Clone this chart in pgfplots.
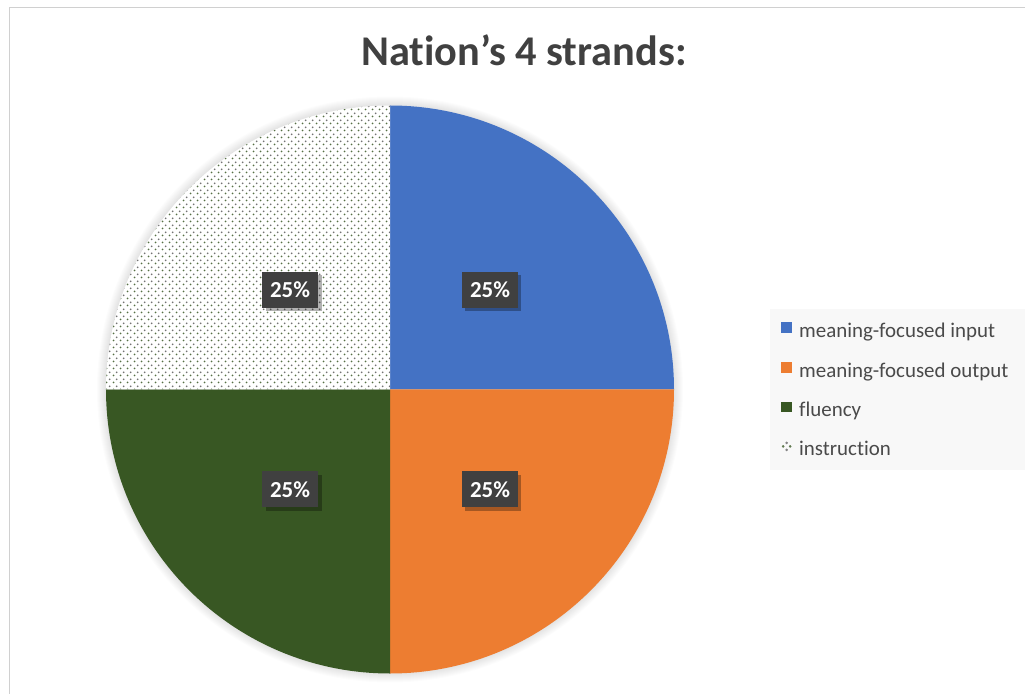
\documentclass[border=0pt]{standalone}
\usepackage{pgfplots}
\pgfplotsset{compat=1.18}
\usepackage{pgfplotstable}
\usepackage{fontspec}
\setmainfont{Carlito}[Ligatures=NoCommon]
\usetikzlibrary{patterns.meta,shadows}

\definecolor{cinput}{HTML}{4472C4}
\definecolor{coutput}{HTML}{ED7D31}
\definecolor{cfluency}{HTML}{385723}
\definecolor{txt}{HTML}{404040}
\definecolor{legtxt}{HTML}{4A4A4A}
\definecolor{lbl}{HTML}{404040}
\definecolor{framec}{HTML}{D0D0D0}
\definecolor{legbg}{HTML}{F8F8F8}

\tikzdeclarepattern{
  name=instrdots,
  type=colored,
  bottom left={(0bp,0bp)},
  top right={(6.6bp,6.6bp)},
  tile size={(6.6bp,6.6bp)},
  code={
    \fill[cfluency!85] (1.65bp,1.65bp) circle (1.05bp);
    \fill[black!55] (4.95bp,4.95bp) circle (1.05bp);
  }
}

\pgfplotstableread{
label value
input 25
output 25
fluency 25
instruction 25
}\piedata

\begin{document}
\begin{tikzpicture}
\path[use as bounding box] (0,0) rectangle (1025bp,694bp);
\pgfplotstablegetelem{0}{value}\of\piedata\edef\vA{\pgfplotsretval}
\pgfplotstablegetelem{1}{value}\of\piedata\edef\vB{\pgfplotsretval}
\pgfplotstablegetelem{2}{value}\of\piedata\edef\vC{\pgfplotsretval}
\pgfplotstablegetelem{3}{value}\of\piedata\edef\vD{\pgfplotsretval}
\pgfmathsetmacro\tot{\vA+\vB+\vC+\vD}
\pgfmathsetmacro\aZ{90}
\pgfmathsetmacro\aA{\aZ-360*\vA/\tot}
\pgfmathsetmacro\aB{\aA-360*\vB/\tot}
\pgfmathsetmacro\aC{\aB-360*\vC/\tot}
\pgfmathsetmacro\aD{\aC-360*\vD/\tot}
\pgfmathsetmacro\mA{(\aZ+\aA)/2}
\pgfmathsetmacro\mB{(\aA+\aB)/2}
\pgfmathsetmacro\mC{(\aB+\aC)/2}
\pgfmathsetmacro\mD{(\aC+\aD)/2}
\def\cx{390}\def\cy{304.5}\def\R{284}\def\dl{141.4}
\pgfmathsetmacro\lxA{\cx+\dl*cos(\mA)}\pgfmathsetmacro\lyA{\cy+\dl*sin(\mA)}
\pgfmathsetmacro\lxB{\cx+\dl*cos(\mB)}\pgfmathsetmacro\lyB{\cy+\dl*sin(\mB)}
\pgfmathsetmacro\lxC{\cx+\dl*cos(\mC)}\pgfmathsetmacro\lyC{\cy+\dl*sin(\mC)}
\pgfmathsetmacro\lxD{\cx+\dl*cos(\mD)}\pgfmathsetmacro\lyD{\cy+\dl*sin(\mD)}
\pgfmathtruncatemacro\pA{round(100*\vA/\tot)}
\pgfmathtruncatemacro\pB{round(100*\vB/\tot)}
\pgfmathtruncatemacro\pC{round(100*\vC/\tot)}
\pgfmathtruncatemacro\pD{round(100*\vD/\tot)}
\begin{axis}[
  at={(0,0)}, anchor=south west,
  x=1bp, y=1bp,
  xmin=0, xmax=1025, ymin=0, ymax=694,
  hide axis, clip=false,
  title={Nation’s 4 strands:},
  title style={at={(524/1025,623/694)}, anchor=base,
    font=\bfseries\fontsize{42.5}{50}\selectfont, text=txt},
  legend style={at={(781/1025,372/694)}, anchor=north west,
    fill=none, draw=none, inner sep=0pt,
    font=\fontsize{21}{25}\selectfont, text=legtxt,
    nodes={inner sep=0pt, text height=14bp, text depth=5bp},
    row sep=19.8bp, column sep=7bp},
  legend cell align=left,
  legend image code/.code={\fill[#1, draw=none] (0bp,0bp) rectangle (11bp,10.5bp);},
]
% frame
\draw[framec, line width=1.5bp] (axis cs:9.5,0) -- (axis cs:9.5,686.5) -- (axis cs:1025,686.5);
% legend background
\fill[legbg] (axis cs:770,224) rectangle (axis cs:1025,385);
% soft glow
\pgfplotsinvokeforeach{1,...,9}{
  \fill[black, opacity=0.012] (axis cs:\cx,\cy) circle[radius={(\R+#1)*1bp}];
}
% slices
\fill[cinput] (axis cs:\cx,\cy) -- ++(\aZ:\R bp) arc[start angle=\aZ, end angle=\aA, radius=\R bp] -- cycle;
\fill[coutput] (axis cs:\cx,\cy) -- ++(\aA:\R bp) arc[start angle=\aA, end angle=\aB, radius=\R bp] -- cycle;
\fill[cfluency] (axis cs:\cx,\cy) -- ++(\aB:\R bp) arc[start angle=\aB, end angle=\aC, radius=\R bp] -- cycle;
\fill[white] (axis cs:\cx,\cy) -- ++(\aC:\R bp) arc[start angle=\aC, end angle=\aD, radius=\R bp] -- cycle;
\fill[pattern=instrdots] (axis cs:\cx,\cy) -- ++(\aC:\R bp) arc[start angle=\aC, end angle=\aD, radius=\R bp] -- cycle;
% labels
\tikzset{pl/.style={fill=lbl, text=white, font=\bfseries\fontsize{23}{27}\selectfont,
  minimum width=56bp, minimum height=36bp, inner sep=0pt,
  drop shadow={shadow xshift=3.5bp, shadow yshift=-3.5bp, opacity=0.3, fill=black}}}
\node[pl] at (axis cs:\lxA,\lyA) {\pA\%};
\node[pl] at (axis cs:\lxB,\lyB) {\pB\%};
\node[pl] at (axis cs:\lxC,\lyC) {\pC\%};
\node[pl] at (axis cs:\lxD,\lyD) {\pD\%};
% legend entries
\addlegendimage{fill=cinput}
\addlegendentry{meaning-focused input}
\addlegendimage{fill=coutput}
\addlegendentry{meaning-focused output}
\addlegendimage{fill=cfluency}
\addlegendentry{fluency}
\addlegendimage{legend image code/.code={
  \fill[cfluency!80] (2bp,5bp) circle (1.1bp);
  \fill[gray] (5.5bp,1.5bp) circle (1.1bp);
  \fill[gray] (5.5bp,8.5bp) circle (1.1bp);
  \fill[cfluency!80] (9bp,5bp) circle (1.1bp);}}
\addlegendentry{instruction}
\end{axis}
\end{tikzpicture}
\end{document}
